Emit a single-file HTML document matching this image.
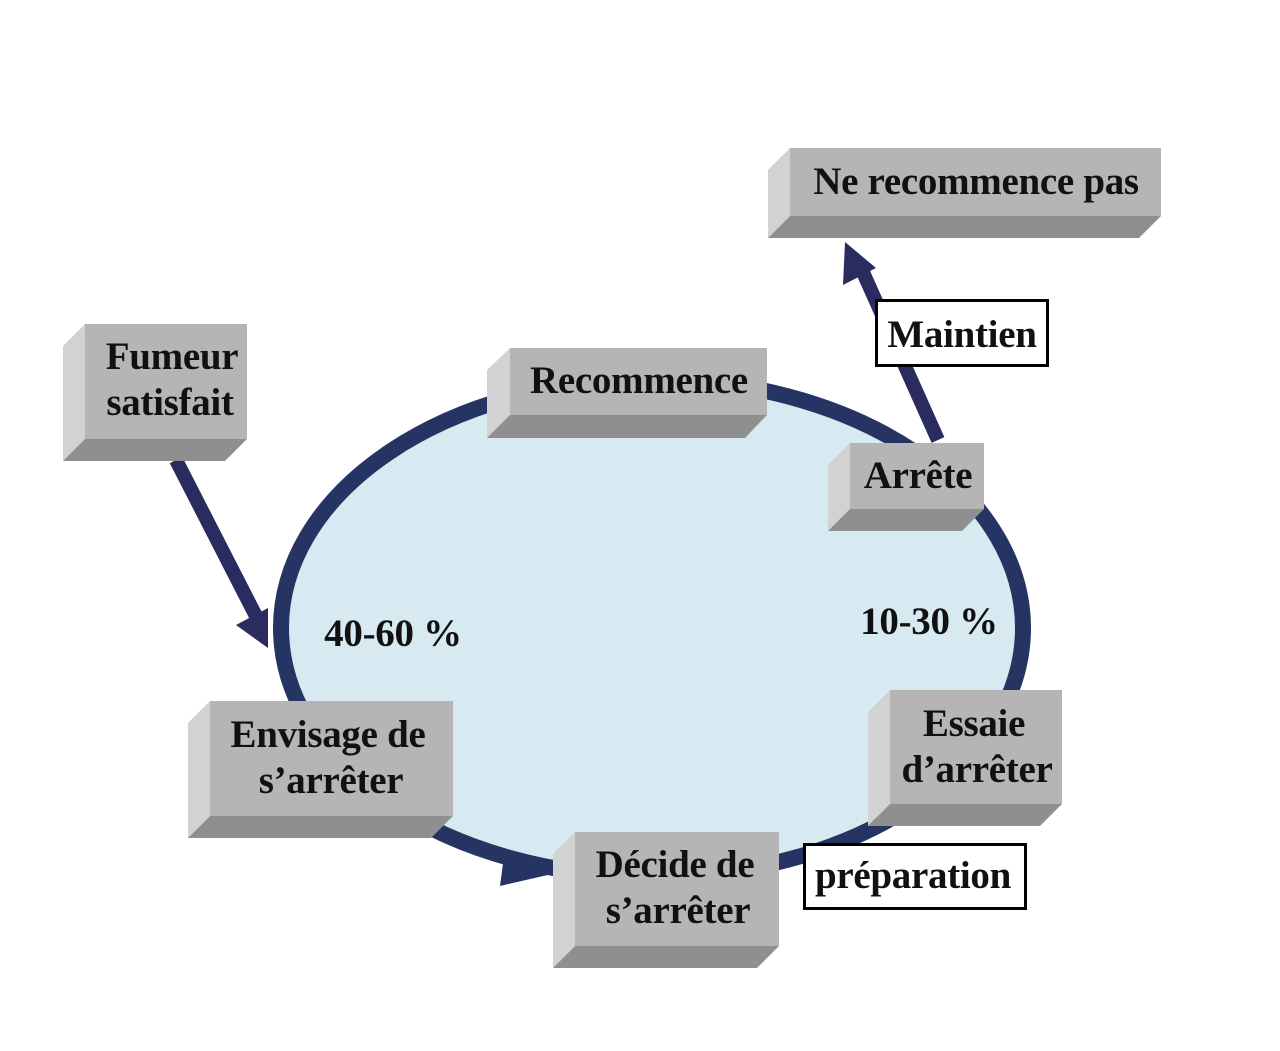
<!DOCTYPE html>
<html><head><meta charset="utf-8"><style>
html,body{margin:0;padding:0;background:#fff;width:1280px;height:1051px;overflow:hidden}
text{font-family:"Liberation Serif",serif;font-weight:bold;fill:#111;font-size:39px;letter-spacing:-0.3px}
</style></head><body>
<svg width="1280" height="1051" viewBox="0 0 1280 1051" xmlns="http://www.w3.org/2000/svg">
<ellipse cx="652" cy="628" rx="371" ry="249" fill="#d7eaf1" stroke="#263463" stroke-width="16"/>
<polygon points="505,848 552,874 500,886" fill="#263463"/>
<line x1="176" y1="460" x2="258" y2="620" stroke="#2a2c5f" stroke-width="14"/>
<polygon points="236,625 268,608 268,648" fill="#2a2c5f"/>
<line x1="938" y1="440" x2="862" y2="270" stroke="#2a2c5f" stroke-width="14"/>
<polygon points="843,285 876,268 845,242" fill="#2a2c5f"/>

<polygon points="790,148 1161,148 1161,216 790,216" fill="#b5b5b5"/>
<polygon points="768,170 790,148 790,216 768,238" fill="#d2d2d2"/>
<polygon points="790,216 1161,216 1139,238 768,238" fill="#8f8f8f"/>
<text x="976" y="194" text-anchor="middle">Ne recommence pas</text>

<polygon points="85,324 247,324 247,439 85,439" fill="#b5b5b5"/>
<polygon points="63,346 85,324 85,439 63,461" fill="#d2d2d2"/>
<polygon points="85,439 247,439 225,461 63,461" fill="#8f8f8f"/>
<text x="172" y="369" text-anchor="middle">Fumeur</text>
<text x="170" y="415" text-anchor="middle">satisfait</text>

<polygon points="510,348 767,348 767,415 510,415" fill="#b5b5b5"/>
<polygon points="487,370 510,348 510,415 487,438" fill="#d2d2d2"/>
<polygon points="510,415 767,415 745,438 487,438" fill="#8f8f8f"/>
<text x="639" y="393" text-anchor="middle">Recommence</text>

<polygon points="850,443 984,443 984,509 850,509" fill="#b5b5b5"/>
<polygon points="828,465 850,443 850,509 828,531" fill="#d2d2d2"/>
<polygon points="850,509 984,509 962,531 828,531" fill="#8f8f8f"/>
<text x="918" y="488" text-anchor="middle">Arrête</text>

<polygon points="210,701 453,701 453,816 210,816" fill="#b5b5b5"/>
<polygon points="188,723 210,701 210,816 188,838" fill="#d2d2d2"/>
<polygon points="210,816 453,816 431,838 188,838" fill="#8f8f8f"/>
<text x="328" y="747" text-anchor="middle">Envisage de</text>
<text x="331" y="793" text-anchor="middle">s’arrêter</text>

<polygon points="890,690 1062,690 1062,804 890,804" fill="#b5b5b5"/>
<polygon points="868,712 890,690 890,804 868,826" fill="#d2d2d2"/>
<polygon points="890,804 1062,804 1040,826 868,826" fill="#8f8f8f"/>
<text x="974" y="736" text-anchor="middle">Essaie</text>
<text x="977" y="782" text-anchor="middle">d’arrêter</text>

<polygon points="575,832 779,832 779,946 575,946" fill="#b5b5b5"/>
<polygon points="553,854 575,832 575,946 553,968" fill="#d2d2d2"/>
<polygon points="575,946 779,946 757,968 553,968" fill="#8f8f8f"/>
<text x="675" y="877" text-anchor="middle">Décide de</text>
<text x="678" y="923" text-anchor="middle">s’arrêter</text>

<rect x="876.5" y="300.5" width="171" height="65" fill="#fff" stroke="#000" stroke-width="3"/>
<text x="962" y="347" text-anchor="middle">Maintien</text>
<rect x="804.5" y="844.5" width="221" height="64" fill="#fff" stroke="#000" stroke-width="3"/>
<text x="913" y="888" text-anchor="middle">préparation</text>

<text x="393" y="646" text-anchor="middle">40-60 %</text>
<text x="929" y="634" text-anchor="middle">10-30 %</text>
</svg>
</body></html>
